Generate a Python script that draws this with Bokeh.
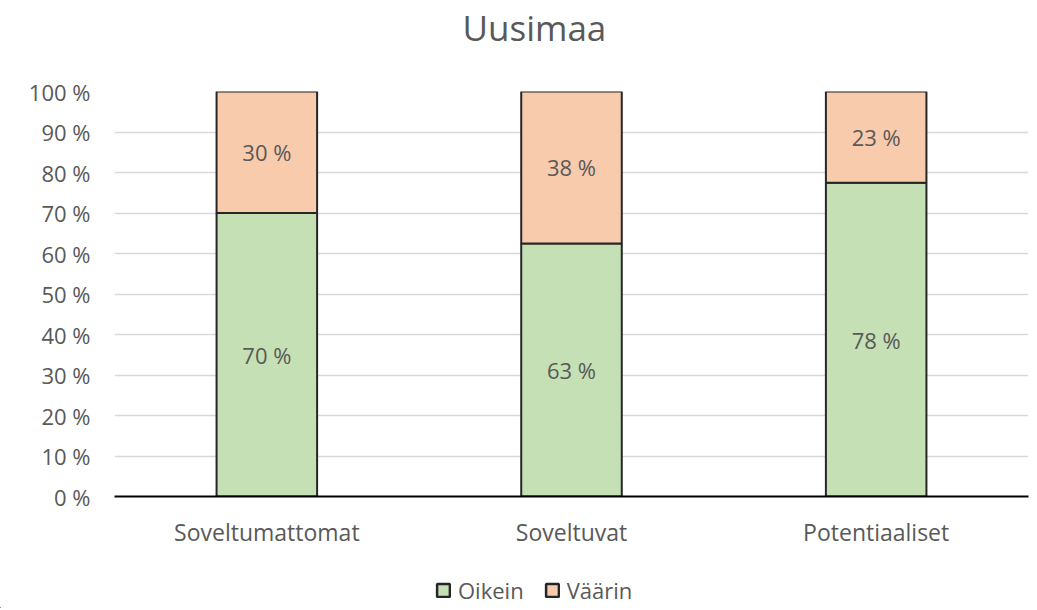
import math
from bokeh.plotting import figure
from bokeh.layouts import column
from bokeh.models import ColumnDataSource, FactorRange, FixedTicker, Legend, LegendItem, Range1d, Label
from bokeh.core.properties import value
from bokeh.embed import file_html
from bokeh.resources import INLINE

title_text = "Uusimaa"
categories = ["Soveltumattomat", "Soveltuvat", "Potentiaaliset"]
series_names = ["Oikein", "Väärin"]
oikein = [70.0, 62.5, 77.5]
vaarin = [30.0, 37.5, 22.5]
y_ticks = [0, 10, 20, 30, 40, 50, 60, 70, 80, 90, 100]
colors = ["#C5E0B4", "#F8CBAD"]

FONT = "Open Sans"
TXT = "#595959"
FS = "22px"
EDGE = "#262626"
W = 1030

def fmt(v):
    return "%d %%" % int(math.floor(v + 0.5))

def strip(h):
    f = figure(width=W, height=h, x_range=Range1d(0, 1), y_range=Range1d(0, 1),
               x_axis_type=None, y_axis_type=None, output_backend="svg", toolbar_location=None,
               min_border_left=0, min_border_right=0, min_border_top=0, min_border_bottom=0,
               frame_align=False)
    f.grid.grid_line_color = None
    f.outline_line_color = None
    return f

# title strip
pt = strip(54)
pt.add_layout(Label(x=462, y=27, x_units="screen", y_units="screen", text=title_text,
                    text_font=FONT, text_font_size="35px", text_color=TXT,
                    text_align="left", text_baseline="alphabetic"))

src = ColumnDataSource(dict(
    cat=categories,
    Oikein=oikein,
    Vaarin=vaarin,
    y_o=[v / 2 for v in oikein],
    y_v=[o + v / 2 for o, v in zip(oikein, vaarin)],
    lab_o=[fmt(v) for v in oikein],
    lab_v=[fmt(v) for v in vaarin],
))

p = figure(width=W, height=510, x_range=FactorRange(*categories, range_padding=0),
           y_range=Range1d(0, 100), output_backend="svg", toolbar_location=None,
           min_border_left=114, min_border_right=2, min_border_top=37, min_border_bottom=68,
           frame_align=False)

p.vbar_stack(["Oikein", "Vaarin"], x="cat", width=0.33, source=src,
             fill_color=colors, line_color=EDGE, line_width=2)

p.text(x="cat", y="y_o", text="lab_o", source=src, text_align="center", text_baseline="middle",
       text_font=value(FONT), text_font_size=FS, text_color=TXT)
p.text(x="cat", y="y_v", text="lab_v", source=src, text_align="center", text_baseline="middle",
       text_font=value(FONT), text_font_size=FS, text_color=TXT)

p.yaxis.ticker = FixedTicker(ticks=y_ticks)
p.yaxis.major_label_overrides = {t: "%d %%" % t for t in y_ticks}
p.yaxis.axis_line_color = None
p.yaxis.major_tick_line_color = None
p.yaxis.minor_tick_line_color = None
p.yaxis.major_tick_out = 0
p.yaxis.major_tick_in = 0
p.yaxis.major_label_text_font = FONT
p.yaxis.major_label_text_font_size = FS
p.yaxis.major_label_text_color = TXT
p.yaxis.major_label_standoff = 24

p.xaxis.axis_line_color = "#000000"
p.xaxis.axis_line_width = 2
p.xaxis.major_tick_line_color = None
p.xaxis.minor_tick_line_color = None
p.xaxis.major_tick_out = 0
p.xaxis.major_tick_in = 0
p.xaxis.major_label_text_font = FONT
p.xaxis.major_label_text_font_size = "23px"
p.xaxis.major_label_text_color = TXT
p.xaxis.major_label_standoff = 19

p.xgrid.grid_line_color = None
p.ygrid.grid_line_color = "#D9D9D9"
p.ygrid.grid_line_width = 1.5

p.outline_line_color = None
p.border_fill_color = "white"

# legend strip below the chart (swatch renderers sit outside its visible range)
pl = strip(44)
r0 = pl.vbar(x=[-10], top=[-10], bottom=[-11], width=0.1, fill_color=colors[0], line_color=EDGE, line_width=2.5)
r1 = pl.vbar(x=[-10], top=[-10], bottom=[-11], width=0.1, fill_color=colors[1], line_color=EDGE, line_width=2.5)
legend = Legend(items=[LegendItem(label=series_names[0], renderers=[r0]),
                       LegendItem(label=series_names[1], renderers=[r1])],
                orientation="horizontal", location=(435, 3),
                label_text_font=FONT, label_text_font_size=FS, label_text_color=TXT,
                glyph_width=16, glyph_height=16, spacing=20, label_standoff=7,
                border_line_color=None, background_fill_alpha=0, padding=0, margin=0)
pl.add_layout(legend)

open("out.html", "w").write(file_html(column(pt, p, pl), INLINE))
